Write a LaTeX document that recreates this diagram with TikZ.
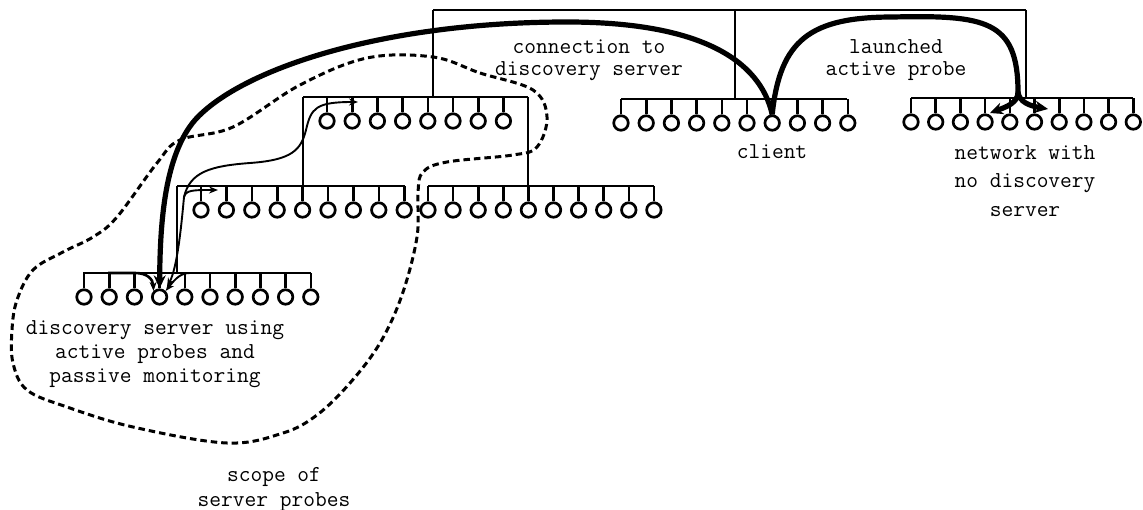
\documentclass[tikz,border=0pt]{standalone}
\usepackage{fontspec}
\usetikzlibrary{arrows.meta}

\tikzset{
  host/.style={circle,draw,line width=2.7pt,minimum size=14.5pt,inner sep=0pt},
  wire/.style={line width=2.6pt},
  probe/.style={line width=1.9pt,-{Stealth[length=9pt,width=7pt]}},
  conn/.style={line width=5.2pt,-{Stealth[length=13pt,width=12pt]}},
  scopeline/.style={line width=3pt,dash pattern=on 6.5pt off 4pt},
  lbl/.style={font=\ttfamily\fontsize{22.8}{#1}\selectfont,align=center,inner sep=0pt},
  lbl/.default=22
}

% one LAN: #1 name, #2 bus y, #3 bus left x, #4 bus right x,
% #5 first host x, #6 host count, #7 host spacing
\newcommand\hostbus[7]{%
  \coordinate (#1-L) at (#3,#2);
  \coordinate (#1-R) at (#4,#2);
  \draw[wire] (#1-L) -- (#1-R);
  \foreach \i in {1,...,#6}{
    \node[host] (#1-\i) at ({#5+#7*(\i-1)},{#2+24}) {};
    \draw[wire] (#1-\i.north) -- (#1-\i.north |- #1-L);
  }
}

\begin{document}
\begin{tikzpicture}[x=1pt,y=-1pt]
\useasboundingbox[fill=white] (0,0) rectangle (1143,510);

% networks
\hostbus{cli}{99}{621}{847}{621}{10}{25.2}
\hostbus{far}{98}{911}{1133}{911}{10}{24.7}
\hostbus{up}{97}{303}{528}{327}{8}{25.2}
\hostbus{lowl}{186}{177}{405}{201}{9}{25.4}
\hostbus{lowr}{186}{428}{654}{428}{10}{25.1}
\hostbus{srv}{273}{83}{311}{84}{10}{25.2}

% backbone and links between the LANs
\coordinate (top-L) at (433,10);
\coordinate (top-M) at (735,10);
\coordinate (top-R) at (1026,10);
\draw[wire] (top-L) -- (top-R);
\draw[wire] (top-L) -- (top-L |- up-L);
\draw[wire] (top-M) -- (top-M |- cli-L);
\draw[wire] (top-R) -- (top-R |- far-L);
\draw[wire] (up-L) -- (up-L |- lowl-L);
\draw[wire] (up-R) -- (up-R |- lowr-L);
\draw[wire] (lowl-L) -- (lowl-L |- srv-L);

% scope of the server's probes
\draw[scopeline] plot[smooth cycle, tension=0.6] coordinates {
  (433,57) (480,73) (533,90) (547,117) (537,147) (513,155) (447,162)
  (423,172) (418,192) (417,237) (402,295) (380,343) (350,383) (317,415)
  (283,433) (227,443) (133,427) (67,407) (27,390) (13,363) (12,330)
  (17,300) (33,270) (63,252) (93,237) (117,217) (157,163) (180,140)
  (233,127) (300,85) (367,58)};

% client to discovery server
\draw[conn] (cli-7.north) .. controls (760,60) and (700,22) .. (567,22)
  .. controls (380,22) and (240,70) .. (195,120)
  .. controls (165,155) and (160,220) .. (srv-4.north);

% launched active probe into the other network
\coordinate (split) at (1018,92);
\coordinate (hitL) at (990,113);
\coordinate (hitR) at (1048,109);
\draw[line width=5.2pt] (cli-7.north) .. controls (780,40) and (810,17) .. (893,17)
  .. controls (985,15) and (1018,20) .. (split);
\draw[conn] (split) .. controls (1018,103) and (1006,107) .. (hitL);
\draw[conn] (split) .. controls (1019,102) and (1030,106) .. (hitR);

% probes sent by the discovery server
\coordinate (pb) at (184,197);
\coordinate (tipA) at (218,190);
\coordinate (tipB) at (358,102);
\coordinate (srvin) at (167,287);
\draw[probe] (pb) .. controls (181,230) and (177,268) .. (srvin);
\draw[probe] (pb) .. controls (186,190) and (193,190) .. (tipA);
\draw[probe] (pb) .. controls (190,172) and (210,166) .. (250,163)
  .. controls (292,160) and (301,150) .. (306,130)
  .. controls (311,108) and (316,102) .. (tipB);

% passively monitored traffic on the server's LAN
\coordinate (busL) at (108,273);
\coordinate (busR) at (200,273);
\draw[probe,line width=2.6pt] (busL) -- (135,273) .. controls (147,273) and (153,279) .. (srv-4.north west);
\draw[probe] (busR) -- (190,273) .. controls (181,273) and (176,278) .. (srv-4.north east);

% labels
\node[lbl] (lconn) at (589,60) {connection to\\discovery server};
\node[lbl] (llaunch) at (896,60) {launched\\active probe};
\node[lbl] (lclient) at (772,152) {client};
\node[lbl=28.5] (lfar) at (1025,181) {network with\\no discovery\\server};
\node[lbl=24] (lsrv) at (155,354) {discovery server using\\active probes and\\passive monitoring};
\node[lbl=25] (lscope) at (274,489) {scope of\\server probes};
\end{tikzpicture}
\end{document}
